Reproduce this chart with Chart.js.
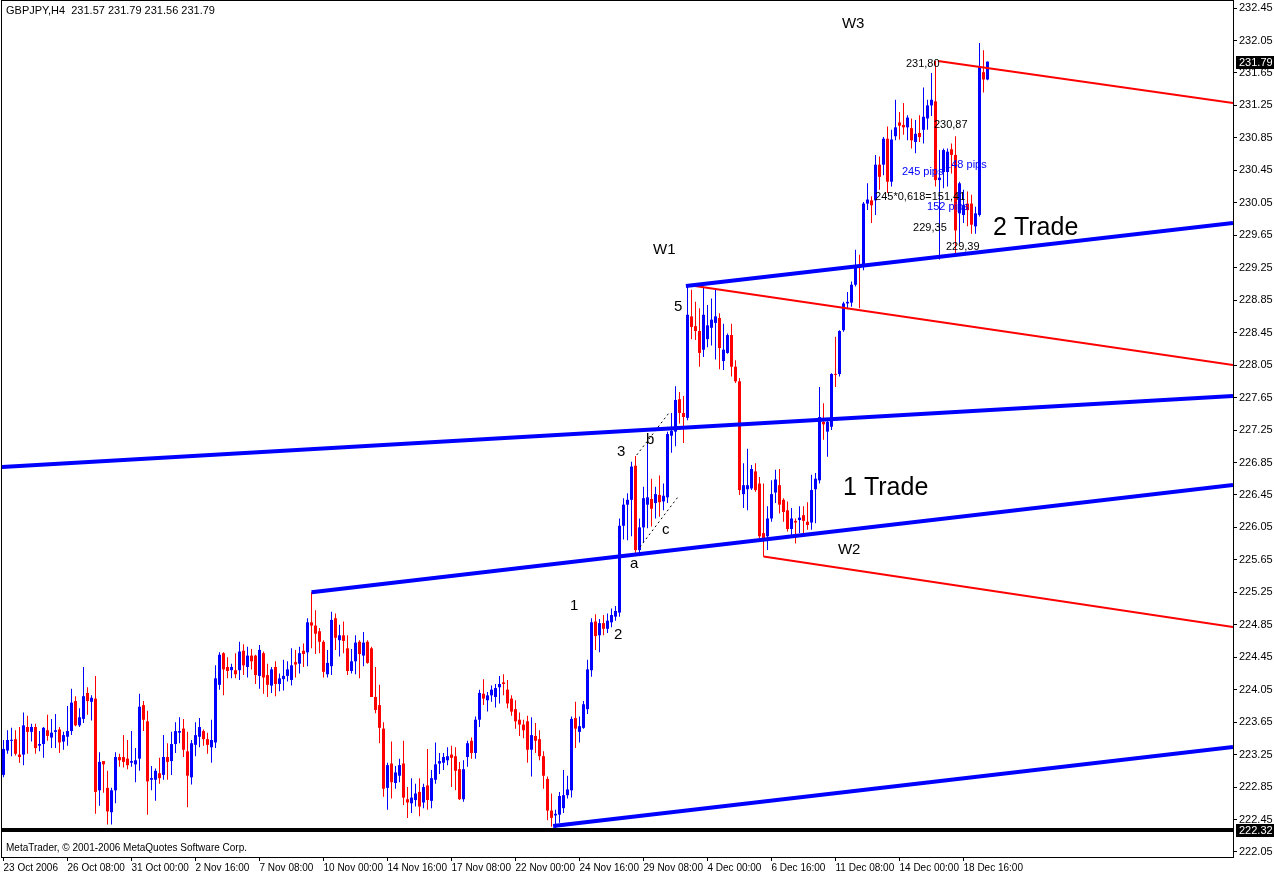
<!DOCTYPE html>
<html lang="en">
<head>
  <meta charset="UTF-8" />
  <title>GBPJPY,H4</title>
  <script src="https://cdn.jsdelivr.net/npm/chart.js"></script>
  <style>
    body { margin: 0; background: #fff; }
    #wrap { width: 1274px; height: 875px; }
  </style>
</head>
<body>
  <div id="wrap"><canvas id="chart" width="1274" height="875"></canvas></div>
  <script>
    // H4 candles, one entry per bar (bar 0 = 23 Oct 2006 00:00)
    const opens = [
      223.00,223.30,223.42,223.44,223.25,223.25,223.59,223.53,223.59,223.36,
      223.38,223.55,223.46,223.53,223.56,223.41,223.47,223.54,223.91,223.61,
      223.69,224.01,223.90,223.94,222.81,223.17,222.84,222.54,222.81,223.22,
      223.22,223.20,223.15,223.13,223.20,223.86,223.66,222.94,222.94,223.02,
      223.00,223.22,223.17,223.38,223.52,223.57,223.29,222.97,223.37,223.47,
      223.54,223.44,223.34,223.40,224.11,
      224.50,224.33,224.29,224.29,224.29,224.53,224.33,224.47,224.47,224.22,
      224.50,224.23,224.10,224.33,224.12,224.18,224.22,224.17,224.39,224.37,
      224.53,224.51,224.88,224.84,224.77,224.64,224.24,224.34,224.93,224.66,
      224.72,224.56,224.28,224.40,224.64,224.47,224.64,224.56,223.96,223.86,
      223.57,222.84,223.14,222.90,222.99,223.14,222.70,222.65,222.69,222.79,
      222.66,222.87,222.68,222.94,223.14,223.15,223.18,223.25,223.23,223.07,
      222.70,223.22,223.42,223.27,223.68,224.00,223.92,223.98,223.96,224.08,
      224.14,224.05,223.94,223.81,223.68,223.62,223.66,223.31,223.48,223.44,
      223.23,222.95,222.56,222.50,222.51,222.59,222.75,222.81,223.70,223.53,
      223.58,223.81,224.29,224.89,224.72,224.87,224.80,224.88,224.95,225.00,
      226.07,226.33,226.39,226.81,225.77,226.05,226.33,226.40,226.35,226.45,
      226.37,226.42,227.18,227.23,227.63,227.46,227.40,228.65,228.53,228.47,
      228.24,228.37,228.51,228.57,228.63,228.10,228.20,228.42,228.03,227.85,
      226.46,226.52,226.53,226.74,226.59,225.98,225.94,226.16,226.48,226.57,
      226.39,226.26,226.03,226.13,226.14,226.20,226.12,226.11,226.52,226.63,
      227.35,227.23,227.29,227.94,227.94,228.48,228.81,228.82,229.04,229.27,
      229.26,230.04,230.08,230.08,230.52,230.52,230.84,230.31,230.87,231.04,
      231.01,230.98,230.97,230.80,230.91,230.95,231.09,231.25,231.30,230.33,
      230.43,230.43,230.71,230.64,229.92,229.90,230.04,230.04,229.76,229.90,
      231.66,231.57
    ];
    const highs = [
      223.43,223.55,223.58,223.55,223.59,223.77,223.73,223.63,223.63,223.54,
      223.59,223.74,223.69,223.75,223.59,223.53,223.85,224.06,223.97,223.82,
      224.33,224.08,223.98,224.22,223.28,223.17,223.05,222.84,223.28,223.26,
      223.49,223.43,223.54,223.33,224.00,223.91,223.79,223.11,223.08,223.21,
      223.49,223.39,223.53,223.65,223.71,223.69,223.53,223.43,223.65,223.70,
      223.56,223.52,223.68,224.35,224.51,
      224.51,224.45,224.37,224.50,224.64,224.61,224.58,224.55,224.48,224.60,
      224.52,224.37,224.33,224.40,224.25,224.42,224.40,224.56,224.54,224.58,
      224.62,224.93,225.25,225.03,224.81,224.66,224.54,225.01,224.99,224.85,
      224.89,224.72,224.55,224.72,224.66,224.76,224.66,224.58,224.33,224.11,
      223.65,223.15,223.41,223.11,223.20,223.42,222.85,222.96,222.89,222.96,
      222.89,223.32,223.06,223.40,223.27,223.27,223.34,223.36,223.34,223.16,
      223.18,223.42,223.46,223.72,224.05,224.18,224.02,224.10,224.12,224.22,
      224.24,224.17,223.98,223.92,223.77,223.68,223.73,223.71,223.64,223.55,
      223.29,222.98,222.77,222.57,222.79,223.06,222.99,223.72,223.90,223.72,
      223.91,224.42,224.93,224.98,224.92,224.97,224.99,225.05,225.08,226.16,
      226.41,226.47,226.86,226.93,226.16,226.55,227.18,226.65,226.55,226.69,
      226.59,227.23,227.46,227.79,227.72,227.67,229.04,228.98,228.83,228.75,
      229.02,228.79,228.87,228.98,228.69,228.56,228.44,228.56,228.11,227.89,
      226.84,227.02,226.82,226.84,226.67,226.59,226.31,226.63,226.76,226.77,
      226.41,226.37,226.29,226.16,226.31,226.31,226.36,226.70,226.72,227.78,
      227.58,227.39,227.95,228.40,228.48,228.83,228.95,229.08,229.47,229.41,
      230.06,230.29,230.13,230.64,230.62,230.86,230.99,230.95,231.32,231.17,
      231.28,231.13,231.09,231.07,231.13,231.47,231.32,231.65,231.80,230.70,
      230.72,230.72,230.78,230.87,230.31,230.21,230.19,230.15,230.00,232.02,
      231.93,231.79
    ];
    const lows = [
      222.97,223.26,223.23,223.24,223.15,223.12,223.26,223.41,223.26,223.29,
      223.21,223.42,223.33,223.33,223.27,223.31,223.36,223.49,223.60,223.59,
      223.64,223.74,223.67,222.52,222.62,222.78,222.39,222.39,222.65,223.10,
      223.09,223.07,223.10,222.91,223.05,223.54,222.51,222.81,222.68,222.89,
      222.94,222.94,223.00,223.27,223.39,223.22,222.60,222.88,223.23,223.34,
      223.36,223.26,223.15,223.33,224.05,
      223.98,224.19,224.19,224.19,224.17,224.23,224.20,224.30,224.12,224.06,
      224.00,223.96,224.01,223.97,224.03,224.04,224.15,224.10,224.20,224.25,
      224.33,224.34,224.56,224.49,224.50,224.20,224.20,224.23,224.54,224.46,
      224.50,224.23,224.25,224.24,224.19,224.34,224.37,223.96,223.76,223.39,
      222.73,222.57,222.71,222.83,222.91,222.63,222.47,222.53,222.61,222.49,
      222.59,222.57,222.59,222.89,223.01,223.06,223.12,222.85,222.81,222.69,
      222.67,223.10,223.20,223.20,223.59,223.86,223.78,223.90,223.83,223.88,
      223.98,223.82,223.73,223.57,223.48,223.45,223.15,222.98,223.27,223.18,
      222.83,222.44,222.36,222.32,222.41,222.53,222.71,222.72,223.33,223.40,
      223.57,223.75,224.21,224.54,224.51,224.72,224.75,224.82,224.90,224.95,
      225.90,225.89,225.94,225.73,225.71,225.87,226.04,226.06,226.16,226.18,
      226.26,226.35,226.97,227.05,227.33,227.09,227.37,228.37,228.36,228.03,
      228.15,228.27,228.29,228.12,228.00,227.99,228.19,227.91,227.83,226.45,
      226.29,226.26,226.51,226.49,225.89,225.69,225.77,226.12,226.35,226.22,
      226.12,226.00,225.94,225.85,225.98,225.98,226.02,226.02,226.10,226.59,
      227.13,226.92,227.25,227.78,227.91,228.46,228.75,228.77,229.02,228.75,
      229.22,229.96,229.80,229.90,230.21,230.39,230.17,230.25,230.82,230.83,
      230.89,230.82,230.72,230.66,230.80,230.78,230.95,231.12,230.25,229.35,
      230.23,230.25,230.41,229.39,229.55,229.80,229.76,229.67,229.67,229.88,
      231.41,231.56
    ];
    const closes = [
      223.32,223.43,223.43,223.26,223.22,223.61,223.53,223.59,223.33,223.38,
      223.58,223.48,223.52,223.55,223.40,223.49,223.54,223.89,223.61,223.71,
      223.97,223.91,223.95,222.79,223.16,223.13,222.55,222.81,223.22,223.18,
      223.16,223.12,223.17,223.18,223.84,223.68,222.92,222.96,223.05,222.96,
      223.22,223.16,223.38,223.54,223.54,223.31,222.99,223.39,223.49,223.59,
      223.44,223.37,223.43,224.19,224.48,
      224.30,224.28,224.33,224.24,224.52,224.35,224.47,224.40,224.23,224.54,
      224.20,224.11,224.30,224.12,224.19,224.22,224.30,224.35,224.36,224.50,
      224.49,224.88,224.84,224.74,224.64,224.27,224.38,224.91,224.69,224.72,
      224.65,224.28,224.40,224.63,224.49,224.63,224.38,223.96,223.80,223.58,
      222.83,223.12,222.91,223.03,223.12,222.72,222.66,222.72,222.77,222.61,
      222.85,222.69,222.96,223.13,223.17,223.22,223.23,223.21,223.05,222.70,
      223.07,223.39,223.27,223.68,224.01,223.94,223.98,224.05,224.07,224.12,
      224.12,223.88,223.78,223.66,223.62,223.55,223.31,223.49,223.42,223.23,
      222.99,222.56,222.47,222.52,222.74,222.75,222.82,223.69,223.57,223.60,
      223.87,224.30,224.88,224.71,224.87,224.80,224.90,224.97,225.02,226.07,
      226.33,226.39,226.80,225.77,226.05,226.41,226.42,226.28,226.46,226.36,
      226.44,227.20,227.24,227.62,227.46,227.41,228.67,228.52,228.47,228.20,
      228.67,228.54,228.61,228.65,228.26,228.24,228.42,228.03,227.85,226.51,
      226.57,226.57,226.77,226.51,225.94,225.91,226.16,226.46,226.64,226.33,
      226.24,226.03,226.16,226.11,226.17,226.13,226.08,226.51,226.65,227.41,
      227.32,227.35,227.94,227.93,228.47,228.81,228.83,229.04,229.26,229.25,
      230.04,230.09,230.02,230.52,230.37,230.84,230.31,230.83,230.98,231.00,
      230.98,231.10,230.82,230.90,230.86,231.11,231.25,231.32,230.33,230.36,
      230.70,230.68,230.64,229.71,230.29,230.02,229.96,229.78,229.92,231.73,
      231.57,231.79
    ];

    const priceTicks = [232.45,232.05,231.65,231.25,230.85,230.45,230.05,229.65,229.25,228.85,
      228.45,228.05,227.65,227.25,226.85,226.45,226.05,225.65,225.25,224.85,224.45,224.05,
      223.65,223.25,222.85,222.45,222.05];
    const dateTicks = [0,16,32,48,64,80,96,112,128,144,160,176,192,208,224,240];
    const dateLabels = ["23 Oct 2006","26 Oct 08:00","31 Oct 00:00","2 Nov 16:00","7 Nov 08:00",
      "10 Nov 00:00","14 Nov 16:00","17 Nov 08:00","22 Nov 00:00","24 Nov 16:00","29 Nov 08:00",
      "4 Dec 00:00","6 Dec 16:00","11 Dec 08:00","14 Dec 00:00","18 Dec 16:00"];

    // trend lines: [bar, price] end points
    const channelLine = [[-0.4, 226.794], [307.375, 227.669]];
    const trade1Line = [[77, 225.25], [307.375, 226.572]];
    const baseLine = [[137.4, 222.37], [307.375, 223.344]];
    const trade2Line = [[170.6, 229.025], [307.375, 229.801]];
    const w1Line = [[172, 229.03], [307.375, 228.051]];
    const w2Line = [[190, 225.69], [307.375, 224.823]];
    const w3Line = [[233.6, 231.797], [307.375, 231.28]];
    const lowLevel = [[-0.4, 222.32], [307.375, 222.32]];
    const abcUpper = [[158.3, 226.942], [166.6, 227.476]];
    const abcLower = [[159.1, 225.808], [168.6, 226.424]];

    // text objects: text, bar, price, kind
    const notes = [
      ["W3", 209.6, 232.253, "wave"], ["W1", 162.4, 229.468, "wave"], ["W2", 208.6, 225.771, "wave"],
      ["2 Trade", 247.4, 229.739, "trade"], ["1 Trade", 209.9, 226.535, "trade"],
      ["5", 167.6, 228.766, "wave"], ["3", 153.4, 226.979, "wave"], ["b", 160.6, 227.127, "wave"],
      ["a", 156.6, 225.599, "wave"], ["c", 164.6, 226.018, "wave"],
      ["1", 141.6, 225.081, "wave"], ["2", 152.6, 224.724, "wave"],
      ["231,80", 225.6, 231.76, "level"], ["230,87", 232.6, 231.009, "level"],
      ["245 pips", 224.6, 230.429, "pips"], ["148 pips", 235.4, 230.516, "pips"],
      ["245*0,618=151,41", 217.9, 230.121, "level"], ["152 pips", 230.9, 229.998, "pips"],
      ["229,35", 227.4, 229.739, "level"], ["229,39", 235.6, 229.505, "level"]
    ];
    const noteStyles = {
      wave: { font: "15px 'Liberation Sans'", color: "#000" },
      trade: { font: "25px 'Liberation Sans'", color: "#000" },
      level: { font: "11px 'Liberation Sans'", color: "#000" },
      pips: { font: "11px 'Liberation Sans'", color: "#0000ff" }
    };
    const markedPrices = [231.79, 222.32];

    const UP = "#0000ff", DOWN = "#ff0000";
    const candleColors = opens.map((o, i) => closes[i] >= o ? UP : DOWN);
    const toPts = arr => arr.map(([x, y]) => ({ x, y }));

    function lineSet(points, color, width, dash) {
      return {
        type: "line", data: toPts(points), borderColor: color, borderWidth: width,
        borderDash: dash || [], pointRadius: 0, tension: 0, fill: false, order: 1
      };
    }

    const textPlugin = {
      id: "notes",
      afterDatasetsDraw(chart) {
        const { ctx, scales: { x, y } } = chart;
        ctx.save();
        ctx.textAlign = "left";
        ctx.textBaseline = "middle";
        notes.forEach(([text, bar, price, kind]) => {
          ctx.font = noteStyles[kind].font;
          ctx.fillStyle = noteStyles[kind].color;
          ctx.fillText(text, x.getPixelForValue(bar), y.getPixelForValue(price));
        });
        ctx.restore();
      }
    };

    const framePlugin = {
      id: "frame",
      afterDraw(chart) {
        const { ctx, chartArea: a, scales: { y } } = chart;
        ctx.save();
        ctx.strokeStyle = "#000";
        ctx.lineWidth = 1;
        ctx.strokeRect(a.left - 0.5, a.top - 0.5, a.right - a.left + 1, a.bottom - a.top + 1);

        ctx.fillStyle = "#000";
        ctx.textBaseline = "middle";
        ctx.font = "11px 'Liberation Sans'";
        ctx.fillText("GBPJPY,H4  231.57 231.79 231.56 231.79", a.left + 4, a.top + 10);
        ctx.font = "10px 'Liberation Sans'";
        ctx.fillText("MetaTrader, \u00a9 2001-2006 MetaQuotes Software Corp.", a.left + 4, a.bottom - 9);

        ctx.font = "11px 'Liberation Sans'";
        markedPrices.forEach(p => {
          const py = Math.round(y.getPixelForValue(p));
          ctx.fillStyle = "#000";
          ctx.fillRect(a.right + 3, py - 6, 38, 13);
          ctx.fillStyle = "#fff";
          ctx.fillText(p.toFixed(2), a.right + 6, py + 0.5);
        });
        ctx.restore();
      }
    };

    const axisFont = { family: "Liberation Sans", size: 11 };

    new Chart(document.getElementById("chart"), {
      type: "bar",
      data: {
        datasets: [
          {
            label: "wicks",
            data: opens.map((o, i) => ({ x: i, y: [lows[i], highs[i]] })),
            backgroundColor: candleColors, barThickness: 1, grouped: false,
            inflateAmount: 0, borderWidth: 0, order: 3
          },
          {
            label: "bodies",
            data: opens.map((o, i) => ({ x: i, y: [o, closes[i]] })),
            backgroundColor: candleColors, barThickness: 3, minBarLength: 1, grouped: false,
            inflateAmount: 0, borderWidth: 0, order: 2
          },
          lineSet(channelLine, "#0000ff", 4),
          lineSet(trade1Line, "#0000ff", 4),
          lineSet(baseLine, "#0000ff", 4),
          lineSet(trade2Line, "#0000ff", 4),
          lineSet(w1Line, "#ff0000", 2),
          lineSet(w2Line, "#ff0000", 2),
          lineSet(w3Line, "#ff0000", 2),
          lineSet(lowLevel, "#000000", 4),
          lineSet(abcUpper, "#000000", 1, [2, 3]),
          lineSet(abcLower, "#000000", 1, [2, 3])
        ]
      },
      options: {
        responsive: false,
        animation: false,
        devicePixelRatio: 1,
        events: [],
        layout: { padding: { left: 2, top: 1, right: 0, bottom: 0 } },
        plugins: { legend: { display: false }, tooltip: { enabled: false } },
        scales: {
          x: {
            type: "linear", position: "bottom", min: -0.375, max: 307.375, offset: false,
            grid: { display: true, drawOnChartArea: false, drawTicks: true, tickLength: 4, color: "#000", offset: false },
            border: { display: false },
            afterBuildTicks: s => { s.ticks = dateTicks.map(v => ({ value: v })); },
            afterFit: s => { s.height = 18; s.paddingLeft = 0; s.paddingRight = 0; },
            ticks: {
              autoSkip: false, maxRotation: 0, minRotation: 0, align: "start", padding: 1,
              color: "#000", font: { family: "Liberation Sans", size: 10 },
              callback: (v, i) => dateLabels[i]
            }
          },
          y: {
            type: "linear", position: "right", min: 221.988, max: 232.537,
            grid: { display: true, drawOnChartArea: false, drawTicks: true, tickLength: 4, color: "#000" },
            border: { display: false },
            afterBuildTicks: s => { s.ticks = priceTicks.map(v => ({ value: v })); },
            afterFit: s => { s.width = 41; s.paddingTop = 0; s.paddingBottom = 0; },
            ticks: { padding: 2, color: "#000", font: axisFont, callback: v => v.toFixed(2) }
          }
        }
      },
      plugins: [textPlugin, framePlugin]
    });
  </script>
</body>
</html>
